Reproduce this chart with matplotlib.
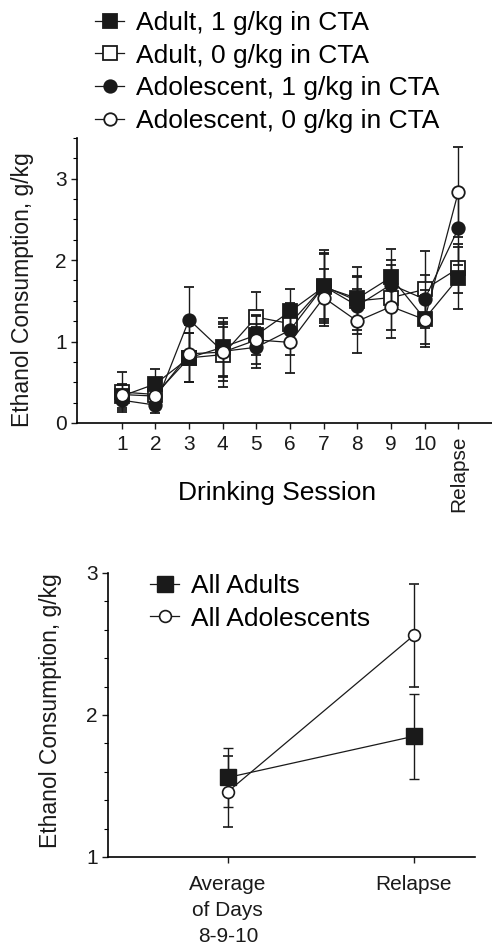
import matplotlib
matplotlib.use("Agg")
import matplotlib.pyplot as plt
from matplotlib.ticker import MultipleLocator

plt.rcParams['font.family'] = ['Liberation Sans', 'DejaVu Sans']

# --- data: top panel (drinking sessions 1-10 + relapse) ---
sessions = [1, 2, 3, 4, 5, 6, 7, 8, 9, 10, 11]
session_labels = ['1', '2', '3', '4', '5', '6', '7', '8', '9', '10', 'Relapse']

adult_1 = [0.33, 0.48, 0.80, 0.93, 1.08, 1.37, 1.67, 1.53, 1.79, 1.28, 1.78]
adult_1_err = [0.15, 0.18, 0.30, 0.36, 0.25, 0.28, 0.42, 0.39, 0.35, 0.35, 0.38]
adult_0 = [0.38, 0.35, 0.80, 0.84, 1.30, 1.22, 1.68, 1.50, 1.54, 1.64, 1.90]
adult_0_err = [0.25, 0.12, 0.30, 0.40, 0.31, 0.25, 0.45, 0.30, 0.40, 0.47, 0.30]
adol_1 = [0.28, 0.22, 1.27, 0.88, 0.93, 1.14, 1.68, 1.44, 1.70, 1.52, 2.39]
adol_1_err = [0.12, 0.10, 0.40, 0.30, 0.25, 0.30, 0.40, 0.35, 0.30, 0.30, 0.45]
adol_0 = [0.35, 0.33, 0.85, 0.87, 1.02, 0.99, 1.54, 1.25, 1.43, 1.27, 2.84]
adol_0_err = [0.12, 0.15, 0.35, 0.35, 0.30, 0.37, 0.35, 0.39, 0.39, 0.30, 0.55]

# --- data: bottom panel ---
periods = [1, 2]
period_labels = ['Average\nof Days\n8-9-10', 'Relapse']
all_adults = [1.56, 1.85]
all_adults_err = [0.21, 0.30]
all_adol = [1.46, 2.56]
all_adol_err = [0.25, 0.36]

INK = '#1a1a1a'
fig = plt.figure(figsize=(4.92, 9.5), dpi=100)

# top panel
ax1 = fig.add_axes([77/492, 1-423/950, 415/492, 285/950])
series = [
    (adult_0, adult_0_err, 's', 'white', 10, 2, 'Adult, 0 g/kg in CTA'),
    (adult_1, adult_1_err, 's', INK, 10, 3, 'Adult, 1 g/kg in CTA'),
    (adol_1, adol_1_err, 'o', INK, 9, 4, 'Adolescent, 1 g/kg in CTA'),
    (adol_0, adol_0_err, 'o', 'white', 9, 5, 'Adolescent, 0 g/kg in CTA'),
]
lines = {}
for y, err, mk, fc, ms, z, lab in series:
    c = ax1.errorbar(sessions, y, yerr=err, color=INK, lw=0.9, marker=mk,
                     ms=ms, mfc=fc, mec=INK, mew=1.3, capsize=3.5,
                     elinewidth=1.0, capthick=1.0, zorder=z)
    lines[lab] = c[0]

ax1.set_xlim(-0.33, 12.0)
ax1.set_ylim(0, 3.5)
ax1.set_xticks(sessions)
ax1.set_xticklabels(session_labels)
ax1.set_yticks([0, 1, 2, 3])
ax1.yaxis.set_minor_locator(MultipleLocator(0.25))
for s in ['top', 'right']:
    ax1.spines[s].set_visible(False)
for s in ['left', 'bottom']:
    ax1.spines[s].set_linewidth(1.2)
ax1.tick_params(axis='both', which='major', labelsize=15, colors=INK, length=4, width=1)
ax1.tick_params(axis='y', which='minor', length=3, width=0.8)
ax1.tick_params(axis='x', pad=5)
rel = ax1.get_xticklabels()[-1]
rel.set_rotation(90)
rel.set_va('top')

fig.text(23/492, 1-290/950, 'Ethanol Consumption, g/kg', rotation=90,
         ha='center', va='center', fontsize=16.5, color=INK)
fig.text(277/492, 1-493/950, 'Drinking Session', ha='center', va='center',
         fontsize=19, color='black')

order = ['Adult, 1 g/kg in CTA', 'Adult, 0 g/kg in CTA',
         'Adolescent, 1 g/kg in CTA', 'Adolescent, 0 g/kg in CTA']
fig.legend([lines[k] for k in order], order, loc='upper left',
           bbox_to_anchor=(95/492, 1-11/950), frameon=False, borderpad=0,
           borderaxespad=0, handlelength=1.1, handletextpad=0.45,
           labelspacing=0.33, fontsize=19)

# bottom panel
ax2 = fig.add_axes([108/492, 1-857/950, 367/492, 284/950])
h_ad = ax2.errorbar(periods, all_adults, yerr=all_adults_err, color=INK, lw=0.9,
                    marker='s', ms=12, mfc=INK, mec=INK, capsize=3.5,
                    elinewidth=1.0, capthick=1.0, zorder=3, label='All Adults')
h_adol = ax2.errorbar(periods, all_adol, yerr=all_adol_err, color=INK, lw=0.9,
                      marker='o', ms=8.5, mfc='white', mec=INK, mew=1.2,
                      capsize=3.5, elinewidth=1.0, capthick=1.0, zorder=4,
                      label='All Adolescents')
ax2.set_xlim(0.355, 2.33)
ax2.set_ylim(1, 3)
ax2.set_xticks(periods)
ax2.set_xticklabels(period_labels, linespacing=1.45)
ax2.set_yticks([1, 2, 3])
ax2.yaxis.set_minor_locator(MultipleLocator(0.2))
for s in ['top', 'right']:
    ax2.spines[s].set_visible(False)
for s in ['left', 'bottom']:
    ax2.spines[s].set_linewidth(1.2)
ax2.tick_params(axis='both', which='major', labelsize=15, colors=INK, length=4, width=1)
ax2.tick_params(axis='y', which='minor', length=3, width=0.8)
ax2.tick_params(axis='x', pad=9)

fig.text(51/492, 1-711/950, 'Ethanol Consumption, g/kg', rotation=90,
         ha='center', va='center', fontsize=16.5, color=INK)
ax2.legend([h_ad[0], h_adol[0]], ['All Adults', 'All Adolescents'],
           loc='upper left', bbox_to_anchor=(150/492, 1-574/950),
           bbox_transform=fig.transFigure, frameon=False, borderpad=0,
           borderaxespad=0, handlelength=1.1, handletextpad=0.45,
           labelspacing=0.33, fontsize=19)

fig.savefig('out.png', dpi=100)
